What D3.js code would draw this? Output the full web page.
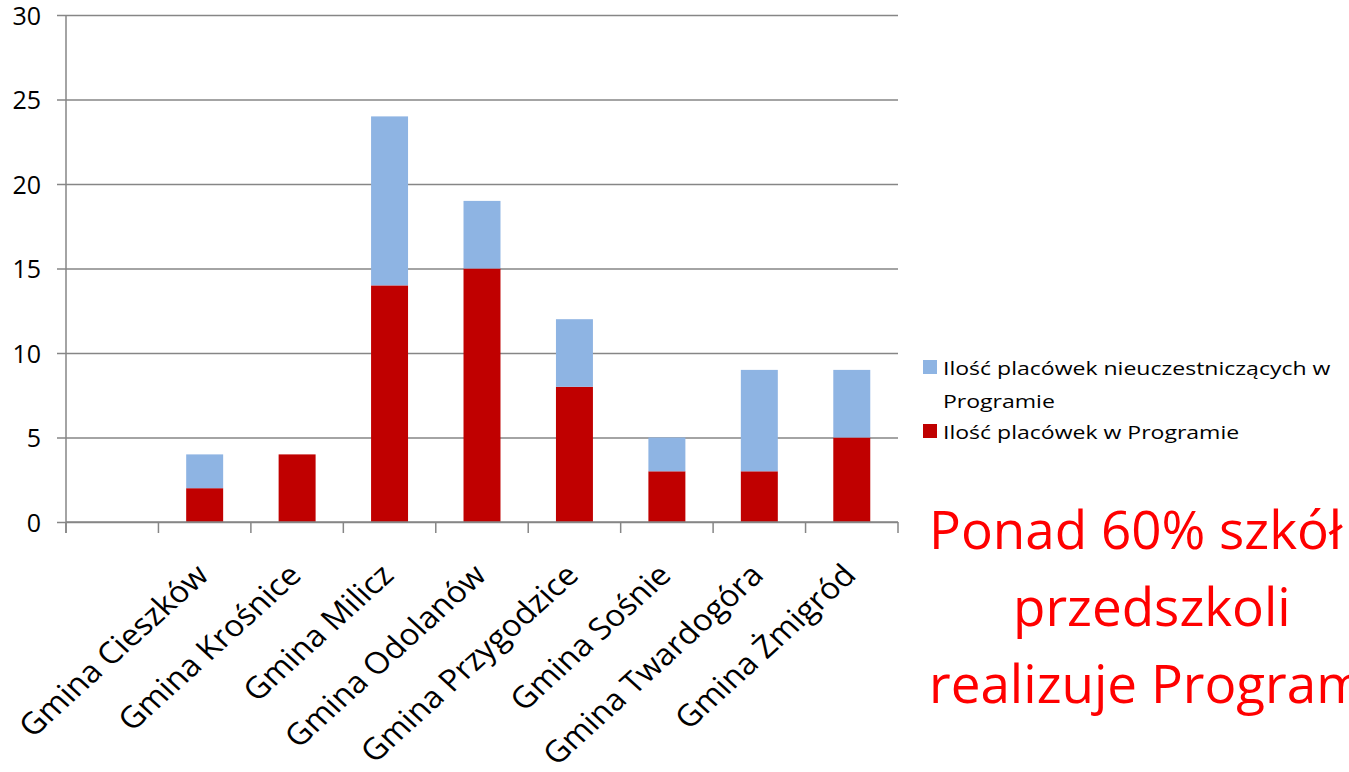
<!DOCTYPE html>
<html>
<head>
<meta charset="utf-8">
<script src="https://cdn.jsdelivr.net/npm/d3@7"></script>
<style>
  body { margin: 0; background: #fff; }
  svg { display: block; }
</style>
</head>
<body>
<script>
const gminy = ["", "Gmina Cieszków", "Gmina Krośnice", "Gmina Milicz", "Gmina Odolanów",
  "Gmina Przygodzice", "Gmina Sośnie", "Gmina Twardogóra", "Gmina Żmigród"]
const wProgramie = [0, 2, 4, 14, 15, 8, 3, 3, 5]
const nieuczestniczace = [0, 2, 0, 10, 4, 4, 2, 6, 4]
const yTicks = [0, 5, 10, 15, 20, 25, 30]
const seriesNames = ["Ilość placówek w Programie", "Ilość placówek nieuczestniczących w Programie"]
const colors = ["#C00000", "#8EB4E3"]
const note = ["Ponad 60% szkół", "przedszkoli", "realizuje Program"]

const width = 1349, height = 772
const mLeft = 66, mRight = 898, mTop = 15, mBottom = 522
const font = "'Open Sans', sans-serif"

const svg = d3.select("body").append("svg")
  .attr("width", width)
  .attr("height", height)

const rows = gminy.map((g, i) => ({ g: g, a: wProgramie[i], b: nieuczestniczace[i] }))
const stack = d3.stack().keys(["a", "b"])(rows)

const x = d3.scaleBand().domain(d3.range(gminy.length)).range([mLeft, mRight])
  .paddingInner(0.6).paddingOuter(0.3)
const xSlot = d3.scaleBand().domain(d3.range(gminy.length)).range([mLeft, mRight]).padding(0)
const y = d3.scaleLinear().domain([0, 30]).range([mBottom, mTop])

// gridlines + y labels
svg.append("g")
  .attr("transform", `translate(${mLeft},0)`)
  .call(d3.axisLeft(y).tickValues(yTicks).tickSize(-(mRight - mLeft)).tickPadding(0))
  .call(g => g.select(".domain").remove())
  .call(g => g.selectAll(".tick line").attr("x1", -9).attr("stroke", "#868686").attr("stroke-width", 1.5))
  .call(g => g.selectAll(".tick text").attr("x", -25).attr("dy", "0.36em")
    .style("font-family", font).style("font-size", "25px").attr("fill", "#000"))

// bars
svg.append("g").selectAll("g")
  .data(stack)
  .join("g")
  .attr("fill", (d, i) => colors[i])
  .selectAll("rect")
  .data(d => d)
  .join("rect")
  .attr("x", (d, i) => x(i))
  .attr("width", x.bandwidth())
  .attr("y", d => y(d[1]))
  .attr("height", d => y(d[0]) - y(d[1]))

// y axis line
svg.append("line")
  .attr("x1", mLeft).attr("x2", mLeft).attr("y1", mTop).attr("y2", mBottom + 11)
  .attr("stroke", "#868686").attr("stroke-width", 1.5)

// x axis with ticks at slot edges
const edges = gminy.map((g, i) => xSlot(i)).concat([mRight])
const xa = svg.append("g")
xa.append("line").attr("x1", mLeft).attr("x2", mRight).attr("y1", mBottom).attr("y2", mBottom)
  .attr("stroke", "#868686").attr("stroke-width", 1.5)
xa.selectAll(".t").data(edges).join("line")
  .attr("x1", d => d).attr("x2", d => d).attr("y1", mBottom).attr("y2", mBottom + 11)
  .attr("stroke", "#868686").attr("stroke-width", 1.5)

// rotated category labels (slightly stretched sideways like the original)
svg.append("g").selectAll("text")
  .data(gminy)
  .join("text")
  .attr("transform", (d, i) => `translate(${x(i) + x.bandwidth() / 2 + 6},${mBottom + 55}) scale(1.1,1) rotate(-45)`)
  .attr("text-anchor", "end")
  .style("font-family", font)
  .style("font-size", "30px")
  .text(d => d)

// legend
const lg = svg.append("g").style("font-family", font).style("font-size", "18px")
const legendRows = [
  { c: colors[1], lines: ["Ilość placówek nieuczestniczących w", "Programie"], y: 360 },
  { c: colors[0], lines: [seriesNames[0]], y: 424 }
]
legendRows.forEach(r => {
  lg.append("rect").attr("x", 923).attr("y", r.y).attr("width", 14).attr("height", 14).attr("fill", r.c)
  r.lines.forEach((t, j) => {
    lg.append("text")
      .attr("transform", `translate(943,${r.y + 15 + j * 33}) scale(1.28,1)`)
      .text(t)
  })
})

// red note
svg.append("g").selectAll("text")
  .data(note)
  .join("text")
  .attr("x", (d, i) => i === 1 ? 1013 : 929)
  .attr("y", (d, i) => 549 + i * 77)
  .attr("fill", "#FF0000")
  .style("font-family", font)
  .style("font-size", "53px")
  .text(d => d)
</script>
</body>
</html>
